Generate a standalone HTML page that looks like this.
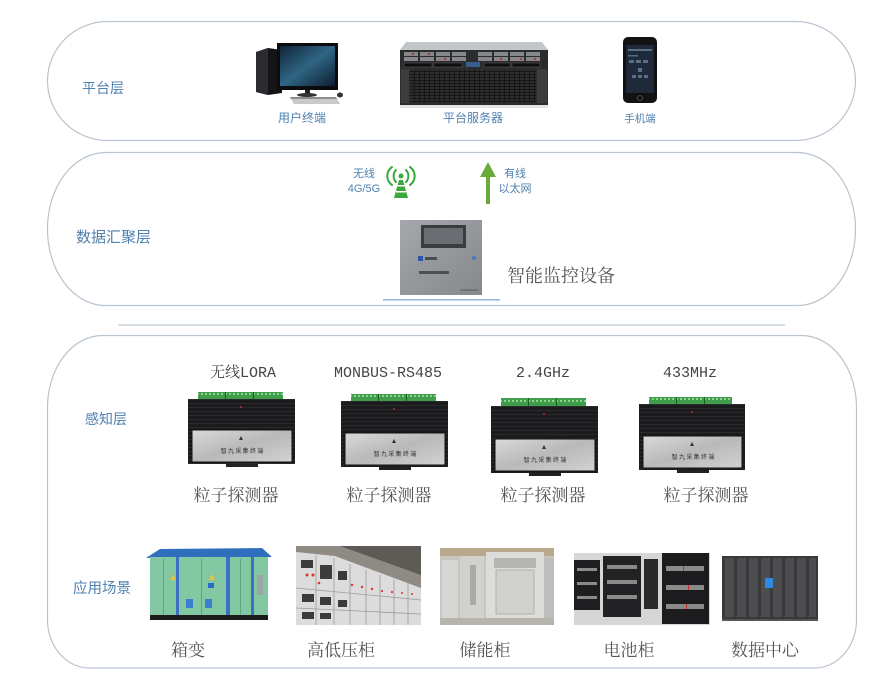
<!DOCTYPE html>
<html><head><meta charset="utf-8"><style>
html,body{margin:0;padding:0;background:#fff;width:880px;height:699px;overflow:hidden}
svg{display:block}
.lab{font-family:"Liberation Sans","Noto Sans CJK SC",sans-serif;fill:#4f80b0}
.ser{font-family:"Liberation Serif","Noto Serif CJK SC",serif;fill:#555}
.mono{font-family:"Liberation Mono","Noto Serif CJK SC",monospace;fill:#444}
</style></head><body>
<svg width="880" height="699" viewBox="0 0 880 699" xmlns="http://www.w3.org/2000/svg">
<defs>
<linearGradient id="silver" x1="0" y1="0" x2="1" y2="1">
<stop offset="0" stop-color="#d9d9d9"/><stop offset="0.5" stop-color="#b9b9b9"/><stop offset="1" stop-color="#d2d2d2"/></linearGradient>
<linearGradient id="screen" x1="0" y1="0" x2="1" y2="1">
<stop offset="0" stop-color="#0f2438"/><stop offset="0.5" stop-color="#2f6584"/><stop offset="1" stop-color="#0d1e30"/></linearGradient>
<linearGradient id="box" x1="0" y1="0" x2="1" y2="1">
<stop offset="0" stop-color="#a4a7ab"/><stop offset="1" stop-color="#85888c"/></linearGradient>
<pattern id="grille" width="5" height="3" patternUnits="userSpaceOnUse">
<rect width="5" height="3" fill="#161616"/><rect x="0" y="0" width="4" height="2" fill="#2e2e30"/></pattern>
<pattern id="fins" width="4" height="4" patternUnits="userSpaceOnUse">
<rect width="4" height="4" fill="#1b1b1d"/><rect width="4" height="1" fill="#2a2a2d"/></pattern>
<pattern id="term" width="4" height="7" patternUnits="userSpaceOnUse">
<rect width="4" height="7" fill="#3f9d4b"/><rect x="1" y="1" width="2" height="2" fill="#8fd08f"/></pattern>
</defs>

<!-- panels -->
<rect x="47.5" y="21.5" width="808" height="119" rx="60" ry="59.5" fill="#fff" stroke="#b9c4cf" stroke-width="1.2"/>
<rect x="47.5" y="152.5" width="808" height="153" rx="58" ry="76" fill="#fff" stroke="#b9c4cf" stroke-width="1.2"/>
<rect x="118" y="324" width="667" height="2" fill="#d8dfe6"/>
<path d="M102.5,335.5 H801.5 A55,72 0 0 1 856.5,407.5 V620 A42,48 0 0 1 814.5,668 H89.5 A42,48 0 0 1 47.5,620 V407.5 A55,72 0 0 1 102.5,335.5 Z" fill="#fff" stroke="#b9c4cf" stroke-width="1.2"/>

<!-- layer labels -->
<text class="lab" x="82" y="93" font-size="14">平台层</text>
<text class="lab" x="76" y="242" font-size="15">数据汇聚层</text>
<text class="lab" x="85" y="424" font-size="14">感知层</text>
<text class="lab" x="73" y="593" font-size="14.5">应用场景</text>

<!-- computer -->
<polygon points="256,52 268,48 282,50 282,93 268,95 256,92" fill="#141416"/>
<polygon points="256,52 268,48 268,95 256,92" fill="#2a2b2e"/>
<rect x="277" y="43" width="61" height="47" fill="#0c0c0e"/>
<rect x="280" y="46" width="55" height="40" fill="url(#screen)"/>
<rect x="305" y="90" width="5" height="4" fill="#222"/>
<ellipse cx="307" cy="95" rx="10" ry="2" fill="#333"/>
<polygon points="290,97 336,97 340,104 294,104" fill="#c9c9cb"/>
<polygon points="290,97 336,97 337,99 291,99" fill="#8d8d90"/>
<ellipse cx="340" cy="95" rx="3" ry="2.5" fill="#333"/>

<!-- server -->
<polygon points="406,42 542,42 548,50 400,50" fill="#c3c6c9"/>
<rect x="400" y="50" width="148" height="55" fill="#2b2c2e"/>
<g fill="#85878b">
<rect x="404" y="52" width="14" height="4"/><rect x="420" y="52" width="14" height="4"/><rect x="436" y="52" width="14" height="4"/><rect x="452" y="52" width="14" height="4"/>
<rect x="478" y="52" width="14" height="4"/><rect x="494" y="52" width="14" height="4"/><rect x="510" y="52" width="14" height="4"/><rect x="526" y="52" width="14" height="4"/>
<rect x="404" y="57" width="14" height="4"/><rect x="420" y="57" width="14" height="4"/><rect x="436" y="57" width="14" height="4"/><rect x="452" y="57" width="14" height="4"/>
<rect x="478" y="57" width="14" height="4"/><rect x="494" y="57" width="14" height="4"/><rect x="510" y="57" width="14" height="4"/><rect x="526" y="57" width="14" height="4"/>
</g>
<g fill="#b33">
<rect x="412" y="53" width="2" height="2"/><rect x="428" y="53" width="2" height="2"/><rect x="444" y="58" width="2" height="2"/><rect x="500" y="58" width="2" height="2"/><rect x="520" y="58" width="2" height="2"/><rect x="534" y="58" width="2" height="2"/>
</g>
<rect x="404" y="63" width="28" height="4" fill="#0e0e0e" stroke="#555" stroke-width="0.6"/>
<rect x="434" y="63" width="28" height="4" fill="#0e0e0e" stroke="#555" stroke-width="0.6"/>
<rect x="466" y="62" width="14" height="5" fill="#3a5e8a"/>
<rect x="484" y="63" width="26" height="4" fill="#0e0e0e" stroke="#555" stroke-width="0.6"/>
<rect x="512" y="63" width="28" height="4" fill="#0e0e0e" stroke="#555" stroke-width="0.6"/>
<rect x="401" y="69" width="8" height="34" fill="#3b3c3e"/>
<rect x="537" y="69" width="10" height="34" fill="#3b3c3e"/>
<rect x="410" y="70" width="126" height="32" fill="url(#grille)"/>
<rect x="400" y="105" width="148" height="3" fill="#e4e5e6"/>

<!-- phone -->
<rect x="623" y="37" width="34" height="66" rx="5" fill="#121214"/>
<rect x="626" y="45" width="28" height="48" fill="#1e2a3a"/>
<g fill="#5a6e86">
<rect x="628" y="49" width="24" height="2"/><rect x="628" y="55" width="10" height="1.5"/><rect x="629" y="60" width="5" height="3"/><rect x="636" y="60" width="5" height="3"/><rect x="643" y="60" width="5" height="3"/>
<rect x="638" y="68" width="4" height="4"/><rect x="632" y="75" width="4" height="3"/><rect x="638" y="75" width="4" height="3"/><rect x="644" y="75" width="4" height="3"/>
</g>
<circle cx="640" cy="98" r="2.5" fill="none" stroke="#555" stroke-width="0.8"/>

<text class="lab" x="302" y="122" font-size="12" text-anchor="middle">用户终端</text>
<text class="lab" x="473" y="122" font-size="12" text-anchor="middle">平台服务器</text>
<text class="lab" x="640" y="122" font-size="10.5" text-anchor="middle">手机端</text>

<!-- wireless / wired -->
<text class="lab" x="364" y="177" font-size="11" text-anchor="middle">无线</text>
<text class="lab" x="364" y="192" font-size="11" text-anchor="middle">4G/5G</text>
<g stroke="#3aa83a" stroke-width="2" fill="none" stroke-linecap="round">
<path d="M396,170 A7,8 0 0 0 396,182"/><path d="M392,167 A11,11 0 0 0 392,185"/>
<path d="M406,170 A7,8 0 0 1 406,182"/><path d="M410,167 A11,11 0 0 1 410,185"/>
</g>
<circle cx="401" cy="176" r="2.5" fill="#3aa83a"/>
<polygon points="399,180 403,180 408,198 394,198" fill="#3aa83a"/>
<rect x="397" y="185" width="8" height="1.5" fill="#fff"/><rect x="396" y="191" width="10" height="1.5" fill="#fff"/>
<rect x="486" y="175" width="4" height="29" fill="#6aaa3a"/>
<polygon points="480,177 488,162 496,177" fill="#6aaa3a"/>
<text class="lab" x="515" y="177" font-size="11" text-anchor="middle">有线</text>
<text class="lab" x="515" y="192" font-size="11" text-anchor="middle">以太网</text>

<!-- monitoring device -->
<rect x="400" y="220" width="82" height="75" fill="url(#box)"/>
<rect x="421" y="225" width="45" height="23" fill="#3a3c40"/>
<rect x="424" y="228" width="39" height="16" fill="#6a6e73"/>
<rect x="418" y="256" width="5" height="5" fill="#2d58a8"/>
<rect x="425" y="257" width="12" height="3" fill="#4a4d52"/>
<circle cx="474" cy="258" r="2" fill="#4a78b8"/>
<rect x="419" y="271" width="30" height="3" fill="#4c4f54"/>
<rect x="460" y="289" width="18" height="2" fill="#70737a"/>
<rect x="383" y="299" width="117" height="1.5" fill="#8fb3dc"/>
<text class="ser" x="507" y="282" font-size="18">智能监控设备</text>

<!-- sensor headers -->
<text class="mono" x="243" y="377" font-size="15" text-anchor="middle">无线LORA</text>
<text class="mono" x="388" y="377" font-size="15" text-anchor="middle">MONBUS-RS485</text>
<text class="mono" x="543" y="377" font-size="15" text-anchor="middle">2.4GHz</text>
<text class="mono" x="690" y="377" font-size="15" text-anchor="middle">433MHz</text>

<!-- detectors -->
<g transform="translate(188,399)">
<rect x="10" y="-7" width="85" height="7" fill="url(#term)"/><rect x="37" y="-7" width="1" height="7" fill="#1f5a27"/><rect x="65" y="-7" width="1" height="7" fill="#1f5a27"/>
<rect x="0" y="0" width="107" height="65" fill="url(#fins)"/><circle cx="53" cy="8" r="1" fill="#a33"/>
<rect x="4" y="31" width="100" height="32" fill="url(#silver)" stroke="#111" stroke-width="1"/>
<polygon points="53,37 51,41 55,41" fill="#333"/>
<text x="54" y="54" font-size="6" text-anchor="middle" fill="#333" font-family="Noto Sans CJK SC,sans-serif">智 九 采 集 终 端</text>
<rect x="38" y="65" width="32" height="3" fill="#222"/>
</g>
<g transform="translate(341,401)">
<rect x="10" y="-7" width="85" height="7" fill="url(#term)"/><rect x="37" y="-7" width="1" height="7" fill="#1f5a27"/><rect x="65" y="-7" width="1" height="7" fill="#1f5a27"/>
<rect x="0" y="0" width="107" height="66" fill="url(#fins)"/><circle cx="53" cy="8" r="1" fill="#a33"/>
<rect x="4" y="32" width="100" height="32" fill="url(#silver)" stroke="#111" stroke-width="1"/>
<polygon points="53,38 51,42 55,42" fill="#333"/>
<text x="54" y="55" font-size="6" text-anchor="middle" fill="#333" font-family="Noto Sans CJK SC,sans-serif">智 九 采 集 终 端</text>
<rect x="38" y="66" width="32" height="3" fill="#222"/>
</g>
<g transform="translate(491,406)">
<rect x="10" y="-8" width="85" height="8" fill="url(#term)"/><rect x="37" y="-8" width="1" height="8" fill="#1f5a27"/><rect x="65" y="-8" width="1" height="8" fill="#1f5a27"/>
<rect x="0" y="0" width="107" height="67" fill="url(#fins)"/><circle cx="53" cy="8" r="1" fill="#a33"/>
<rect x="4" y="33" width="100" height="32" fill="url(#silver)" stroke="#111" stroke-width="1"/>
<polygon points="53,39 51,43 55,43" fill="#333"/>
<text x="54" y="56" font-size="6" text-anchor="middle" fill="#333" font-family="Noto Sans CJK SC,sans-serif">智 九 采 集 终 端</text>
<rect x="38" y="67" width="32" height="3" fill="#222"/>
</g>
<g transform="translate(639,404)">
<rect x="10" y="-7" width="83" height="7" fill="url(#term)"/><rect x="37" y="-7" width="1" height="7" fill="#1f5a27"/><rect x="65" y="-7" width="1" height="7" fill="#1f5a27"/>
<rect x="0" y="0" width="106" height="66" fill="url(#fins)"/><circle cx="53" cy="8" r="1" fill="#a33"/>
<rect x="4" y="32" width="99" height="32" fill="url(#silver)" stroke="#111" stroke-width="1"/>
<polygon points="53,38 51,42 55,42" fill="#333"/>
<text x="54" y="55" font-size="6" text-anchor="middle" fill="#333" font-family="Noto Sans CJK SC,sans-serif">智 九 采 集 终 端</text>
<rect x="38" y="66" width="32" height="3" fill="#222"/>
</g>

<text class="ser" x="236" y="501" font-size="17" text-anchor="middle">粒子探测器</text>
<text class="ser" x="389" y="501" font-size="17" text-anchor="middle">粒子探测器</text>
<text class="ser" x="543" y="501" font-size="17" text-anchor="middle">粒子探测器</text>
<text class="ser" x="706" y="501" font-size="17" text-anchor="middle">粒子探测器</text>

<!-- 箱变 -->
<polygon points="146,558 160,549 262,548 272,557" fill="#2f6fbd"/>
<rect x="150" y="557" width="118" height="59" fill="#84c7a3"/>
<rect x="176" y="557" width="3" height="59" fill="#3d6fc4"/>
<rect x="226" y="557" width="4" height="59" fill="#3d6fc4"/>
<rect x="251" y="557" width="3" height="59" fill="#3d6fc4"/>
<rect x="163" y="559" width="1" height="56" fill="#5fa585"/><rect x="201" y="559" width="1" height="56" fill="#5fa585"/><rect x="240" y="559" width="1" height="56" fill="#5fa585"/>
<polygon points="170,580 173,574 176,580" fill="#e8c43a"/>
<polygon points="209,580 212,574 215,580" fill="#e8c43a"/>
<rect x="208" y="583" width="6" height="5" fill="#2c6ac9"/>
<rect x="186" y="599" width="7" height="9" fill="#3d7fcf"/>
<rect x="205" y="599" width="7" height="9" fill="#3d7fcf"/>
<rect x="257" y="575" width="6" height="20" fill="#9aa7a3"/>
<rect x="150" y="615" width="118" height="5" fill="#1b1b1b"/>

<!-- 高低压柜 -->
<rect x="296" y="546" width="125" height="79" fill="#8f8a84"/>
<polygon points="340,546 421,546 421,575" fill="#5e5b57"/>
<polygon points="296,552 335,556 421,588 421,625 296,625" fill="#dcdcdc"/>
<g fill="#3b3b3b">
<rect x="301" y="560" width="12" height="8"/><rect x="320" y="565" width="12" height="14"/><rect x="338" y="571" width="9" height="9"/>
<rect x="302" y="594" width="12" height="8"/><rect x="320" y="597" width="11" height="8"/><rect x="338" y="600" width="9" height="7"/>
<rect x="302" y="612" width="12" height="7"/><rect x="320" y="613" width="11" height="6"/>
</g>
<g fill="#e03030">
<circle cx="307" cy="575" r="1.5"/><circle cx="313" cy="575" r="1.5"/><circle cx="319" cy="583" r="1.3"/><circle cx="352" cy="585" r="1.2"/><circle cx="362" cy="587" r="1.2"/><circle cx="372" cy="589" r="1.2"/><circle cx="382" cy="591" r="1.1"/><circle cx="392" cy="592" r="1.1"/><circle cx="402" cy="593" r="1"/><circle cx="412" cy="594" r="1"/>
</g>
<g stroke="#9a9a9a" stroke-width="0.8">
<line x1="316" y1="555" x2="316" y2="625"/><line x1="334" y1="558" x2="334" y2="625"/><line x1="350" y1="564" x2="350" y2="625"/><line x1="366" y1="570" x2="366" y2="625"/><line x1="380" y1="575" x2="380" y2="625"/><line x1="394" y1="579" x2="394" y2="625"/><line x1="408" y1="583" x2="408" y2="625"/>
<line x1="296" y1="588" x2="421" y2="600"/><line x1="296" y1="608" x2="421" y2="614"/>
</g>

<!-- 储能柜 -->
<rect x="440" y="548" width="114" height="77" fill="#c9c6c1"/>
<rect x="440" y="548" width="114" height="8" fill="#b8a88c"/>
<rect x="442" y="560" width="16" height="58" fill="#d6d6d4"/>
<rect x="460" y="556" width="24" height="64" fill="#d1d1cf"/>
<rect x="470" y="565" width="6" height="40" fill="#a9a9a7"/>
<rect x="486" y="552" width="58" height="68" fill="#dcdcda"/>
<rect x="494" y="558" width="42" height="10" fill="#b4b4b2"/>
<rect x="496" y="570" width="38" height="44" fill="#d0d0ce" stroke="#b0b0ae"/>
<rect x="544" y="558" width="10" height="60" fill="#bdbdbb"/>
<rect x="440" y="618" width="114" height="7" fill="#b7b4ae"/>

<!-- 电池柜 -->
<rect x="574" y="553" width="136" height="72" fill="#d6d6d6"/>
<rect x="574" y="560" width="26" height="50" fill="#1e1e20"/>
<rect x="603" y="556" width="38" height="61" fill="#222224"/>
<rect x="644" y="559" width="14" height="50" fill="#2a2a2c"/>
<rect x="662" y="553" width="47" height="71" fill="#1c1c1e"/>
<g fill="#8a8a88">
<rect x="577" y="568" width="20" height="3"/><rect x="577" y="582" width="20" height="3"/><rect x="577" y="596" width="20" height="3"/>
<rect x="607" y="565" width="30" height="4"/><rect x="607" y="580" width="30" height="4"/><rect x="607" y="595" width="30" height="4"/>
<rect x="666" y="566" width="38" height="5"/><rect x="666" y="585" width="38" height="5"/><rect x="666" y="604" width="38" height="5"/>
</g>
<g fill="#c43030"><rect x="683" y="566" width="1" height="5"/><rect x="688" y="585" width="1" height="5"/><rect x="686" y="604" width="1" height="5"/></g>

<!-- 数据中心 -->
<rect x="722" y="556" width="96" height="63" fill="#39393b"/>
<g fill="#4d4d50">
<rect x="725" y="558" width="9" height="59"/><rect x="737" y="558" width="9" height="59"/><rect x="749" y="558" width="9" height="59"/><rect x="761" y="558" width="9" height="59"/><rect x="773" y="558" width="9" height="59"/><rect x="785" y="558" width="9" height="59"/><rect x="797" y="558" width="9" height="59"/><rect x="809" y="558" width="7" height="59"/>
</g>
<rect x="765" y="578" width="8" height="10" fill="#2a8ce0"/>
<rect x="722" y="619" width="96" height="2" fill="#555"/>

<text class="ser" x="188" y="656" font-size="17" text-anchor="middle">箱变</text>
<text class="ser" x="341" y="656" font-size="17" text-anchor="middle">高低压柜</text>
<text class="ser" x="485" y="656" font-size="17" text-anchor="middle">储能柜</text>
<text class="ser" x="629" y="656" font-size="17" text-anchor="middle">电池柜</text>
<text class="ser" x="765" y="656" font-size="17" text-anchor="middle">数据中心</text>
</svg>
</body></html>
